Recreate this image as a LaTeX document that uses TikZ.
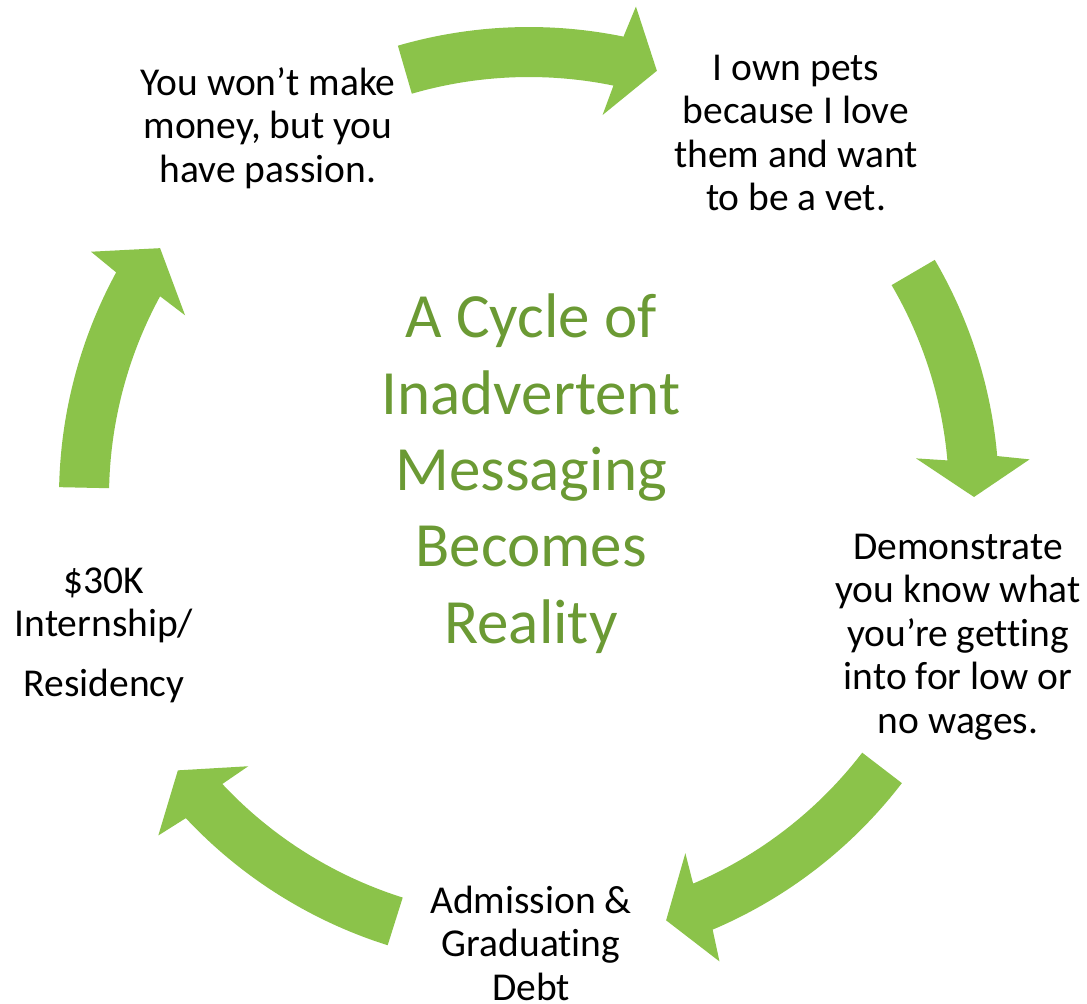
\documentclass[tikz,border=0pt]{standalone}
\usepackage{fontspec}
\setmainfont{Carlito}[Ligatures={NoCommon,NoContextual}]
\definecolor{arrowgreen}{HTML}{8BC34A}
\definecolor{titlegreen}{HTML}{6B9A34}
\tikzset{
  bodytext/.style={align=center, inner sep=0pt, anchor=base, text=black,
    font={\fontsize{39.5}{43.5}\selectfont}},
  titletext/.style={align=center, inner sep=0pt, anchor=base, text=titlegreen,
    font={\fontsize{63}{76.3}\selectfont}},
  cyclearrow/.style={fill=arrowgreen, draw=none}
}
% #1 tail angle, #2 head base angle, #3 tip angle (clockwise: #1 > #2 > #3)
\newcommand{\greenarrow}[3]{%
  \fill[cyclearrow] (#1:470) arc[start angle=#1, end angle=#2, radius=470]
    -- ({#2-0.7}:502) -- (#3:445) -- ({#2+0.7}:389) -- (#2:420)
    arc[start angle=#2, end angle=#1, radius=420] -- cycle;}
\begin{document}
\begin{tikzpicture}[x=1pt,y=1pt]
\useasboundingbox (0,0) rectangle (1087,-1004);
\begin{scope}[shift={(529,-497)}]
  \greenarrow{106.2}{78.4}{73.3}
  \greenarrow{30.3}{5.0}{0.0}
  \greenarrow{-37.5}{-67.0}{-72.05}
  \greenarrow{-107.5}{-136.9}{-142.1}
  \greenarrow{178.8}{151.45}{146.0}
\end{scope}
% anchor=base is the baseline of the last line
\node[bodytext] (pets) at (796,-210.5) {I own pets\\because I love\\them and want\\to be a vet.};
\node[bodytext] (demo) at (958,-733) {Demonstrate\\you know what\\you’re getting\\into for low or\\no wages.};
\node[bodytext] (debt) at (531,-1000) {Admission \&\\Graduating\\Debt};
\node[bodytext] (intern) at (104,-696.7) {\$30K\\Internship/\\[16.7pt]Residency};
\node[bodytext] (money) at (268,-182) {You won’t make\\money, but you\\have passion.};
\node[titletext] (title) at (531,-643) {A Cycle of\\Inadvertent\\Messaging\\Becomes\\Reality};
\end{tikzpicture}
\end{document}
